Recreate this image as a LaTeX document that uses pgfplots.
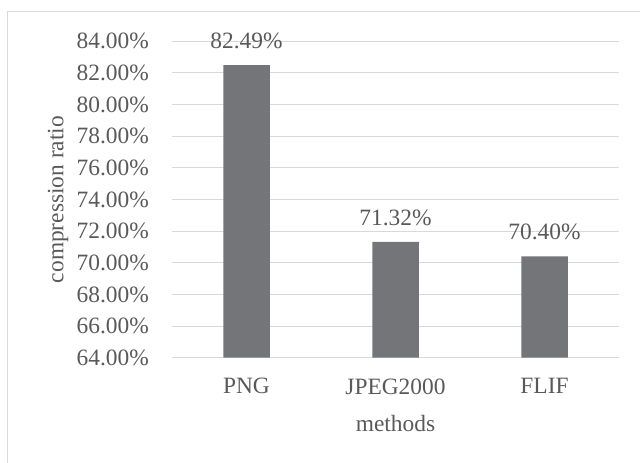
\documentclass[border=0pt]{standalone}
\usepackage{fontspec}
\setmainfont{Liberation Serif}
\usepackage{pgfplots}
\pgfplotsset{compat=1.18}

\definecolor{txtgray}{RGB}{89,89,89}
\definecolor{gridgray}{RGB}{217,217,217}
\definecolor{bargray}{RGB}{116,117,121}

\begin{document}
\fontsize{23.4bp}{28bp}\selectfont
\begin{tikzpicture}
  \path[use as bounding box] (0,0) rectangle (640bp,463bp);
  % chart frame
  \draw[gridgray, line width=1.3bp] (7.5bp,-5bp) -- (7.5bp,451.3bp) -- (650bp,451.3bp);
  \begin{axis}[
    at={(172bp,105.3bp)}, anchor=south west,
    scale only axis,
    width=447bp, height=316.4bp,
    xmin=-0.5, xmax=2.5,
    ymin=64, ymax=84,
    ytick={64,66,...,84},
    xtick={0,1,2},
    xticklabels={PNG,JPEG2000,FLIF},
    axis line style={draw=none},
    major tick length=0pt,
    ymajorgrids,
    grid style={gridgray, line width=1bp},
    yticklabel={\pgfmathprintnumber[fixed,fixed zerofill,precision=2]{\tick}\%},
    /pgf/number format/assume math mode=true,
    ticklabel style={font=\fontsize{23.4bp}{28bp}\selectfont, text=txtgray, inner sep=0pt},
    yticklabel style={anchor=east, xshift=-23bp},
    xticklabel style={anchor=north, yshift=-20.6bp},
    xlabel={methods},
    ylabel={compression ratio},
    label style={font=\fontsize{23.4bp}{28bp}\selectfont, text=txtgray, inner sep=0pt},
    xlabel style={at={(axis description cs:0.5,-0.2339)}, anchor=base},
    ylabel style={at={(axis description cs:-0.2432,0.5)}, anchor=base, rotate=0},
    ybar, bar width=46.5bp,
    nodes near coords={\pgfmathprintnumber[fixed,fixed zerofill,precision=2]{\pgfplotspointmeta}\%},
    every node near coord/.append style={font=\fontsize{23.4bp}{28bp}\selectfont, text=txtgray, inner sep=0pt, anchor=south, yshift=16bp},
    point meta=y,
    clip=false,
  ]
    \addplot[fill=bargray, draw=none] coordinates {(0,82.49) (1,71.32) (2,70.40)};
  \end{axis}
\end{tikzpicture}
\end{document}
